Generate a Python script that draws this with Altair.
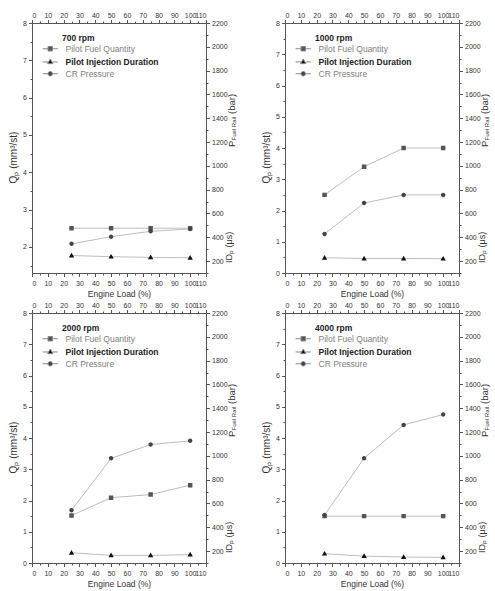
import altair as alt
import pandas as pd

FONT = "Liberation Sans"

engine_load = [25, 50, 75, 100]
series_names = ["Pilot Fuel Quantity", "Pilot Injection Duration", "CR Pressure"]
panel_titles = ["700 rpm", "1000 rpm", "2000 rpm", "4000 rpm"]

# Pilot fuel quantity Qp (mm3/st) - left axis
qp_700 = [2.5, 2.5, 2.5, 2.5]
qp_1000 = [2.5, 3.4, 4.0, 4.0]
qp_2000 = [1.52, 2.09, 2.19, 2.49]
qp_4000 = [1.5, 1.5, 1.5, 1.5]

# Pilot injection duration IDp (us) - right axis
idp_700 = [247, 237, 231, 228]
idp_1000 = [228, 222, 222, 220]
idp_2000 = [186, 164, 164, 170]
idp_4000 = [178, 158, 150, 147]

# Common-rail pressure (bar) - right axis
cr_700 = [345, 405, 450, 470]
cr_1000 = [428, 688, 756, 756]
cr_2000 = [544, 979, 1095, 1126]
cr_4000 = [503, 980, 1260, 1347]

# lower end of the Qp axis in each panel
qp_axis_min = [1.3, 0, 0, 0]

W, H = 174, 250

# marker paths: symbol plus short line stubs (stubs only show when stroked, i.e. in the legend)
SQUARE = "M-1,-1H1V1H-1Z M-3.4,0H-1 M1,0H3.4"
TRIANGLE = "M0,-1.25L1.2,0.85H-1.2Z M-3.4,0.1H-1 M1,0.1H3.4"
CIRCLE = "M1,0A1,1,0,1,1,-1,0A1,1,0,1,1,1,0Z M-3.4,0H-1 M1,0H3.4"
MARKER_COLORS = ["#555555", "#111111", "#444444"]
LINE_COLOR = "#bdbdbd"

x_ticks = list(range(0, 111, 5))
r_ticks = list(range(100, 2201, 100))


def make_legend():
    return alt.Legend(
        title=None,
        orient="none",
        legendX=14,
        legendY=21.5,
        symbolSize=20,
        symbolStrokeColor="#8a8a8a",
        symbolStrokeWidth=1,
        labelOffset=11,
        labelFont=FONT,
        labelFontSize=8.5,
        labelColor=alt.ExprRef("datum.label === 'Pilot Injection Duration' ? '#222222' : '#808080'"),
        labelFontWeight=alt.ExprRef("datum.label === 'Pilot Injection Duration' ? 'bold' : 'normal'"),
        rowPadding=3,
        padding=0,
    )


def text_piece(text, x, y, size, weight="normal", angle=0, color="#333333"):
    return alt.Chart(alt.Data(values=[{}])).mark_text(
        text=text, font=FONT, fontSize=size, fontWeight=weight, angle=angle,
        align="left", baseline="middle", color=color,
    ).encode(x=alt.value(x), y=alt.value(y))


def panel(title, qp, idp, cr, qmin):
    df_q = pd.DataFrame({"load": engine_load, "series": series_names[0], "value": qp})
    df_r = pd.concat([
        pd.DataFrame({"load": engine_load, "series": series_names[1], "value": idp}),
        pd.DataFrame({"load": engine_load, "series": series_names[2], "value": cr}),
    ])

    shape = alt.Shape("series:N", scale=alt.Scale(domain=series_names, range=[SQUARE, TRIANGLE, CIRCLE]),
                      legend=make_legend())
    color = alt.Color("series:N", scale=alt.Scale(domain=series_names, range=MARKER_COLORS),
                      legend=make_legend())

    common_x = dict(values=x_ticks,
                    labelOverlap=False,
                    labelExpr="datum.value % 10 === 0 ? datum.label : ''",
                    tickSize={"condition": {"test": "datum.value % 10 === 0", "value": 3.5}, "value": 2})
    x_bottom = alt.X("load:Q", scale=alt.Scale(domain=[0, 110], nice=False),
                     axis=alt.Axis(orient="bottom", title="Engine Load (%)", labelPadding=2.5,
                                   titlePadding=3.5, titleFontSize=8.5, **common_x))
    x_top = alt.X("load:Q", scale=alt.Scale(domain=[0, 110], nice=False),
                  axis=alt.Axis(orient="top", title=None, labelPadding=1.5, **common_x))

    q_vals = [v / 2 for v in range(int(qmin * 2 + 0.999), 17)]
    y_left = alt.Y("value:Q", scale=alt.Scale(domain=[qmin, 8], nice=False, zero=False),
                   axis=alt.Axis(orient="left", values=q_vals, title="Qₚ (mm³/st)",
                                 labelOverlap=False, titleFontSize=10, titleY=H / 2 + 9,
                                 labelExpr="datum.value % 1 === 0 ? format(datum.value, 'd') : ''",
                                 tickSize={"condition": {"test": "datum.value % 1 === 0", "value": 3.5}, "value": 2}))
    y_right = alt.Y("value:Q", scale=alt.Scale(domain=[100, 2200], nice=False, zero=False),
                    axis=alt.Axis(orient="right", values=r_ticks, title=None, labelOverlap=False,
                                  labelExpr="datum.value % 200 === 0 ? format(datum.value, 'd') : ''",
                                  tickSize={"condition": {"test": "datum.value % 200 === 0", "value": 3.5}, "value": 2}))

    q_line = alt.Chart(df_q).mark_line(color=LINE_COLOR, strokeWidth=1).encode(x=x_bottom, y=y_left)
    q_pts = alt.Chart(df_q).mark_point(filled=True, size=20, opacity=1).encode(
        x=x_bottom, y=y_left, shape=shape, color=color)
    r_line = alt.Chart(df_r).mark_line(color=LINE_COLOR, strokeWidth=1).encode(
        x=x_top, y=y_right, detail="series:N")
    r_pts = alt.Chart(df_r).mark_point(filled=True, size=20, opacity=1).encode(
        x=x_top, y=y_right, shape=shape, color=color)

    left = alt.layer(q_line, q_pts)
    right = alt.layer(r_line, r_pts)

    texts = [
        text_piece(title, 30, 15, 8.5, weight="bold", color="#222222"),
        # right-hand axis titles, read bottom to top
        text_piece("P", W + 26, 124, 9.5, angle=270),
        text_piece("Fuel Rail", W + 28, 117.5, 6, angle=270),
        text_piece("(bar)", W + 26, 91, 9.5, angle=270),
        text_piece("IDₚ (μs)", W + 23, 240, 9, angle=270),
    ]
    return alt.layer(left, right, *texts).resolve_scale(x="independent", y="independent").properties(
        width=W, height=H)


panels = [
    panel(panel_titles[0], qp_700, idp_700, cr_700, qp_axis_min[0]),
    panel(panel_titles[1], qp_1000, idp_1000, cr_1000, qp_axis_min[1]),
    panel(panel_titles[2], qp_2000, idp_2000, cr_2000, qp_axis_min[2]),
    panel(panel_titles[3], qp_4000, idp_4000, cr_4000, qp_axis_min[3]),
]

chart = alt.concat(
    *panels, columns=2, spacing={"row": 40, "column": 79}, bounds="flush"
).resolve_legend(
    color="independent", shape="independent"
).configure(
    padding={"left": 8, "top": 11, "right": 5, "bottom": 3},
    background="white",
).configure_view(
    stroke=None
).configure_axis(
    grid=False,
    domainColor="#555555",
    domainWidth=1,
    tickColor="#555555",
    tickWidth=1,
    labelFont=FONT,
    labelFontSize=7,
    labelColor="#333333",
    labelPadding=2,
    titleFont=FONT,
    titleFontSize=8.5,
    titleFontWeight="normal",
    titleColor="#333333",
    titlePadding=4,
)

chart.save("out.html", embed_options={"renderer": "svg", "actions": False})
